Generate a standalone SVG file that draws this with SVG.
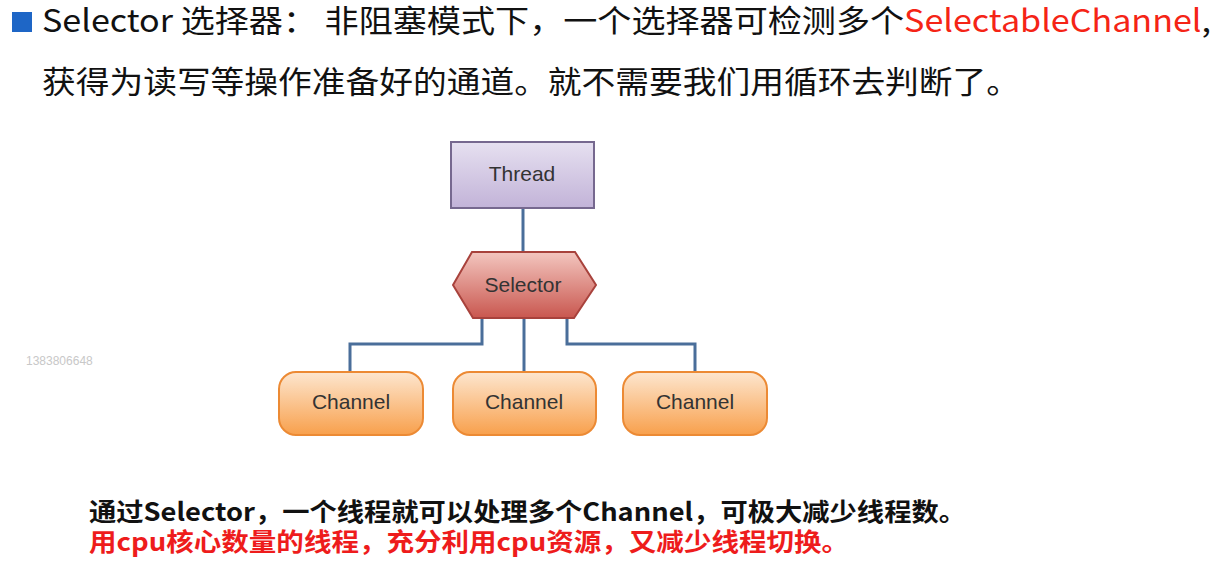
<svg xmlns="http://www.w3.org/2000/svg" width="1216" height="564" viewBox="0 0 1216 564">
<style>
.hd{font-family:"Noto Sans CJK SC","Noto Sans",sans-serif;font-size:31px;fill:#111}
.red{fill:#f52416}
.bt{font-family:"Noto Sans CJK SC","Noto Sans",sans-serif;font-size:25px;font-weight:bold;fill:#111}
.lbl{font-family:"Liberation Sans",Arial,sans-serif;font-size:21px;fill:#333;text-anchor:middle}
.conn{fill:none;stroke:#4a6e9a;stroke-width:3}
</style>
<defs>
<linearGradient id="gP" x1="0" y1="0" x2="0" y2="1"><stop offset="0" stop-color="#e6e0f0"/><stop offset="1" stop-color="#c2b3d8"/></linearGradient>
<linearGradient id="gR" x1="0" y1="0" x2="0" y2="1"><stop offset="0" stop-color="#f3c6bf"/><stop offset="1" stop-color="#c9574f"/></linearGradient>
<linearGradient id="gO" x1="0" y1="0" x2="0" y2="1"><stop offset="0" stop-color="#fde6cf"/><stop offset="1" stop-color="#f8a04c"/></linearGradient>
</defs>
<rect width="1216" height="564" fill="#fff"/>
<g id="header">
<rect x="12" y="12" width="20" height="20" fill="#1e66c6"/>
<text class="hd" x="42" y="32" textLength="1169" lengthAdjust="spacingAndGlyphs">Selector 选择器： 非阻塞模式下，一个选择器可检测多个<tspan class="red">SelectableChannel</tspan>,</text>
<text class="hd" x="42" y="93" textLength="978" lengthAdjust="spacingAndGlyphs">获得为读写等操作准备好的通道。就不需要我们用循环去判断了。</text>
</g>
<g id="connectors">
<line class="conn" x1="523" y1="208" x2="523" y2="252"/>
<polyline class="conn" points="482,318 482,344 350,344 350,372"/>
<line class="conn" x1="524" y1="318" x2="524" y2="372"/>
<polyline class="conn" points="567,318 567,344 695,344 695,372"/>
</g>
<g id="thread">
<rect x="451" y="142" width="143" height="66" fill="url(#gP)" stroke="#76688f" stroke-width="2"/>
<text class="lbl" x="522" y="181">Thread</text>
</g>
<g id="selector">
<polygon points="453,285 472,252 575,252 596,285 574,318 473,318" fill="url(#gR)" stroke="#a8423c" stroke-width="2"/>
<text class="lbl" x="523" y="292">Selector</text>
</g>
<g id="channel1">
<rect x="279" y="372" width="144" height="63" rx="17" fill="url(#gO)" stroke="#ec8a34" stroke-width="2"/>
<text class="lbl" x="351" y="409">Channel</text>
</g>
<g id="channel2">
<rect x="453" y="372" width="143" height="63" rx="17" fill="url(#gO)" stroke="#ec8a34" stroke-width="2"/>
<text class="lbl" x="524" y="409">Channel</text>
</g>
<g id="channel3">
<rect x="623" y="372" width="144" height="63" rx="17" fill="url(#gO)" stroke="#ec8a34" stroke-width="2"/>
<text class="lbl" x="695" y="409">Channel</text>
</g>
<text x="26" y="365" font-family="Liberation Sans,Arial,sans-serif" font-size="12" fill="#c8c8c8">1383806648</text>
<g id="notes">
<text class="bt" x="89" y="521" textLength="877" lengthAdjust="spacingAndGlyphs">通过Selector，一个线程就可以处理多个Channel，可极大减少线程数。</text>
<text class="bt" x="89" y="551" textLength="760" lengthAdjust="spacingAndGlyphs" style="fill:#ee1c1c">用cpu核心数量的线程，充分利用cpu资源，又减少线程切换。</text>
</g>
</svg>
